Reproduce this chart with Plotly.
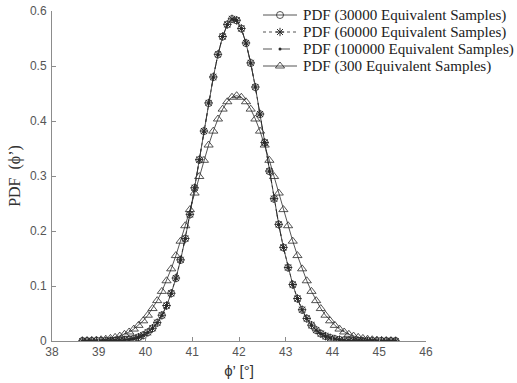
import plotly.graph_objects as go

phi = [38.65, 38.75, 38.85, 38.95, 39.05, 39.15, 39.25, 39.35, 39.45, 39.55,
       39.65, 39.75, 39.85, 39.95, 40.05, 40.15, 40.25, 40.35, 40.45, 40.55,
       40.65, 40.75, 40.85, 40.95, 41.05, 41.15, 41.25, 41.35, 41.45, 41.55,
       41.65, 41.75, 41.85, 41.95, 42.05, 42.15, 42.25, 42.35, 42.45, 42.55,
       42.65, 42.75, 42.85, 42.95, 43.05, 43.15, 43.25, 43.35, 43.45, 43.55,
       43.65, 43.75, 43.85, 43.95, 44.05, 44.15, 44.25, 44.35, 44.45, 44.55,
       44.65, 44.75, 44.85, 44.95, 45.05, 45.15, 45.25, 45.35]

pdf_30000 = [0.0000, 0.0000, 0.0000, 0.0001, 0.0001, 0.0002, 0.0003, 0.0006, 0.0010, 0.0017,
             0.0027, 0.0043, 0.0068, 0.0104, 0.0157, 0.0230, 0.0331, 0.0466, 0.0642, 0.0866,
             0.1141, 0.1473, 0.1861, 0.2300, 0.2782, 0.3293, 0.3815, 0.4325, 0.4798, 0.5209,
             0.5534, 0.5754, 0.5854, 0.5829, 0.5680, 0.5416, 0.5054, 0.4615, 0.4124, 0.3607,
             0.3087, 0.2585, 0.2118, 0.1699, 0.1334, 0.1024, 0.0770, 0.0567, 0.0408, 0.0287,
             0.0198, 0.0134, 0.0088, 0.0057, 0.0036, 0.0022, 0.0013, 0.0008, 0.0005, 0.0002,
             0.0001, 0.0001, 0.0000, 0.0000, 0.0000, 0.0000, 0.0000, 0.0000]

pdf_60000 = [0.0000, 0.0000, 0.0000, 0.0001, 0.0001, 0.0002, 0.0004, 0.0006, 0.0011, 0.0017,
             0.0028, 0.0044, 0.0069, 0.0106, 0.0158, 0.0232, 0.0334, 0.0469, 0.0645, 0.0868,
             0.1145, 0.1476, 0.1865, 0.2303, 0.2786, 0.3297, 0.3818, 0.4329, 0.4801, 0.5212,
             0.5537, 0.5757, 0.5857, 0.5832, 0.5683, 0.5419, 0.5057, 0.4618, 0.4127, 0.3610,
             0.3090, 0.2588, 0.2121, 0.1702, 0.1337, 0.1027, 0.0772, 0.0569, 0.0410, 0.0288,
             0.0199, 0.0135, 0.0089, 0.0058, 0.0036, 0.0022, 0.0013, 0.0008, 0.0005, 0.0003,
             0.0001, 0.0001, 0.0000, 0.0000, 0.0000, 0.0000, 0.0000, 0.0000]

pdf_100000 = [0.0000, 0.0000, 0.0000, 0.0001, 0.0001, 0.0002, 0.0003, 0.0006, 0.0010, 0.0016,
              0.0026, 0.0042, 0.0067, 0.0103, 0.0155, 0.0228, 0.0329, 0.0463, 0.0639, 0.0863,
              0.1138, 0.1470, 0.1858, 0.2297, 0.2779, 0.3290, 0.3812, 0.4322, 0.4795, 0.5206,
              0.5531, 0.5751, 0.5851, 0.5826, 0.5677, 0.5413, 0.5051, 0.4612, 0.4121, 0.3604,
              0.3084, 0.2582, 0.2115, 0.1696, 0.1331, 0.1021, 0.0768, 0.0565, 0.0406, 0.0286,
              0.0197, 0.0133, 0.0087, 0.0056, 0.0035, 0.0021, 0.0013, 0.0008, 0.0004, 0.0002,
              0.0001, 0.0001, 0.0000, 0.0000, 0.0000, 0.0000, 0.0000, 0.0000]

pdf_300 = [0.0005, 0.0007, 0.0011, 0.0016, 0.0023, 0.0033, 0.0047, 0.0066, 0.0090, 0.0122,
           0.0164, 0.0217, 0.0284, 0.0367, 0.0469, 0.0590, 0.0734, 0.0902, 0.1095, 0.1312,
           0.1553, 0.1815, 0.2096, 0.2389, 0.2690, 0.2991, 0.3285, 0.3563, 0.3816, 0.4036,
           0.4216, 0.4350, 0.4432, 0.4460, 0.4432, 0.4350, 0.4216, 0.4036, 0.3816, 0.3563,
           0.3285, 0.2991, 0.2690, 0.2389, 0.2096, 0.1815, 0.1553, 0.1312, 0.1095, 0.0902,
           0.0734, 0.0590, 0.0469, 0.0367, 0.0284, 0.0217, 0.0164, 0.0122, 0.0090, 0.0066,
           0.0047, 0.0033, 0.0023, 0.0016, 0.0011, 0.0007, 0.0005, 0.0003]

series_names = ["PDF (30000 Equivalent Samples)", "PDF (60000 Equivalent Samples)",
                "PDF (100000 Equivalent Samples)", "PDF (300 Equivalent Samples)"]

x_ticks = [38, 39, 40, 41, 42, 43, 44, 45, 46]
y_ticks = [0, 0.1, 0.2, 0.3, 0.4, 0.5, 0.6]

ink = "#2a2a2a"
styles = [
    dict(line=dict(color=ink, width=0.8, dash="solid"),
         marker=dict(symbol="circle-open", size=7, color=ink, line=dict(width=0.8))),
    dict(line=dict(color=ink, width=0.8, dash="dot"),
         marker=dict(symbol="asterisk-open", size=7, color=ink, line=dict(width=1))),
    dict(line=dict(color=ink, width=0.8, dash="dash"),
         marker=dict(symbol="circle", size=3, color=ink)),
    dict(line=dict(color=ink, width=0.8, dash="solid"),
         marker=dict(symbol="triangle-up-open", size=8, color=ink, line=dict(width=0.8))),
]
series = [pdf_30000, pdf_60000, pdf_100000, pdf_300]

fig = go.Figure()
for name, ys, st in zip(series_names, series, styles):
    fig.add_trace(go.Scatter(x=phi, y=ys, name=name, mode="lines+markers",
                             showlegend=False, **st))

# Compact legend drawn on a hidden overlay axis measured in pixels of the plot box
plot_left, plot_right, plot_top, plot_bottom = 52, 426, 11, 341
leg_rows = [15, 32, 49, 66]
leg_x0, leg_x1, leg_text_x = 263, 297, 301
for name, st, ry in zip(series_names, styles, leg_rows):
    fig.add_trace(go.Scatter(x=[leg_x0, leg_x1], y=[ry, ry], xaxis="x2", yaxis="y2",
                             mode="lines", line=st["line"], showlegend=False, hoverinfo="skip"))
    fig.add_trace(go.Scatter(x=[(leg_x0 + leg_x1) / 2], y=[ry], xaxis="x2", yaxis="y2",
                             mode="markers", marker=st["marker"], showlegend=False, hoverinfo="skip"))
    fig.add_annotation(x=leg_text_x, y=ry, xref="x2", yref="y2", text=name, showarrow=False,
                       xanchor="left", yanchor="middle",
                       font=dict(family="Liberation Serif, Times New Roman", size=15.1, color="#222222"))

axis_col = "#8c8c8c"
tick_font = dict(family="Liberation Sans, Arial", size=12, color="#555555")

fig.update_layout(
    width=517, height=383,
    margin=dict(l=plot_left, r=517 - plot_right, t=plot_top, b=383 - plot_bottom, autoexpand=False),
    paper_bgcolor="white", plot_bgcolor="white",
    xaxis=dict(range=[38, 46], tickvals=x_ticks, ticks="inside", ticklen=4,
               tickcolor=axis_col, showline=True, linecolor=axis_col, linewidth=1,
               showgrid=False, zeroline=False, tickfont=tick_font, automargin=False,
               ticklabelstandoff=0,
               title=dict(text="ϕ’ [°]", font=dict(family="Liberation Sans, Arial", size=15, color="#333333"),
                          standoff=7)),
    yaxis=dict(range=[0, 0.6], tickvals=y_ticks, ticktext=["0", "0.1", "0.2", "0.3", "0.4", "0.5", "0.6"],
               ticks="inside", ticklen=4,
               tickcolor=axis_col, showline=True, linecolor=axis_col, linewidth=1,
               showgrid=False, zeroline=False, tickfont=tick_font, automargin=False,
               ticklabelstandoff=2,
               title=dict(text="PDF  (ϕ’)", font=dict(family="Liberation Serif, Times New Roman", size=16, color="#333333"),
                          standoff=5)),
    xaxis2=dict(range=[plot_left, plot_right], overlaying="x", anchor="y2", visible=False,
                fixedrange=True),
    yaxis2=dict(range=[plot_bottom, plot_top], overlaying="y", anchor="x2", visible=False,
                fixedrange=True),
)

fig.write_html("out.html", config={"displayModeBar": False},
               post_script="document.body.style.margin='0px';document.body.style.overflow='hidden';")
